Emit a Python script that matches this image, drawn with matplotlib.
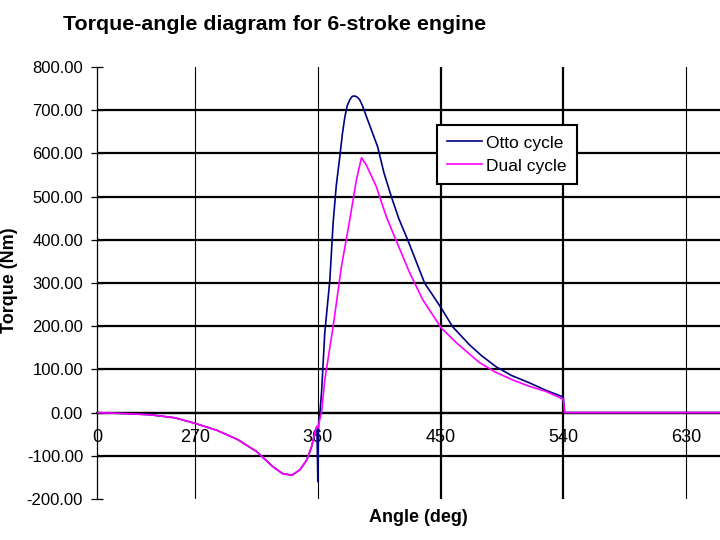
import matplotlib
matplotlib.use('Agg')
import matplotlib.pyplot as plt


##### DATA #####
angle_otto = [198, 217, 237, 255, 270, 286, 301, 315, 327, 334, 341, 347, 352, 355.5, 358, 359.3,
              360, 360.5, 361.5, 362.7, 365.1, 368.8, 371.2, 373.5, 376.1, 378, 379.8, 381.5, 383.4,
              385.2, 387.1, 389, 390.7, 392.5, 394.4, 399.3, 403.9, 408.5, 413.9, 419.5, 425.9,
              438.3, 450.5, 458.8, 471.2, 480, 490.8, 502, 515.1, 527, 540, 541, 655]
torque_otto = [0, -2, -5, -12, -25, -41, -62, -90, -125, -141, -145, -132, -109, -78, -44, -32,
               -160, -30, 0, 46, 185, 307, 439, 525, 592, 645, 684, 710, 724,
               732, 733, 730, 724, 712, 696, 654, 615, 555, 500, 448, 400,
               300, 242, 199, 157, 132, 106, 86, 69, 52, 36, 0, 0]

angle_dual = [198, 217, 237, 255, 270, 286, 301, 315, 327, 334, 341, 347, 352, 355.5, 358, 359.3,
              360.2, 361.5, 362.7, 365.1, 371.2, 377.3, 383.4, 388.3, 392, 395.6, 402.9, 410.3,
              416.3, 427.3, 437, 450.5, 461.5, 478.5, 490, 502.7, 515, 527.3, 540, 541, 655]
torque_dual = [0, -2, -5, -12, -25, -41, -62, -90, -125, -141, -145, -132, -109, -78, -44, -32,
               -35, -15, 0, 76, 199, 338, 446, 539, 590, 573, 523, 453,
               407, 324, 261, 196, 162, 116, 94, 76, 61, 49, 31, 0, 0]

x_ticks = [198, 270, 360, 450, 540, 630]
x_labels = ['0', '270', '360', '450', '540', '630']
y_ticks = [-200, -100, 0, 100, 200, 300, 400, 500, 600, 700, 800]

NAVY = '#000080'
MAGENTA = '#FF00FF'


fig = plt.figure(figsize=(7.2, 5.4), dpi=100)
ax = fig.add_axes([97/720, 1 - 499/540, 1 - 97/720, (499 - 67)/540])

# grid, drawn by hand like the Excel one (no line at top/bottom)
for yv in y_ticks[1:-1]:
    ax.axhline(yv, color='black', lw=1.6, zorder=1)
for xv, w in zip(x_ticks[1:], [0.8, 0.8, 1.6, 1.6, 0.8]):
    ax.axvline(xv, color='black', lw=w, zorder=1)

ax.plot(angle_otto, torque_otto, color=NAVY, lw=1.2, label='Otto cycle', zorder=3)
ax.plot(angle_dual, torque_dual, color=MAGENTA, lw=1.2, label='Dual cycle', zorder=4)

ax.set_xlim(198, 655)
ax.set_ylim(-200, 800)

for s in ['top', 'right']:
    ax.spines[s].set_visible(False)
ax.spines['left'].set_linewidth(0.9)
ax.spines['bottom'].set_position(('data', 0))
ax.spines['bottom'].set_linewidth(1.6)

ax.set_yticks(y_ticks)
ax.set_yticklabels(['%.2f' % v for v in y_ticks], family='Liberation Sans', fontsize=12)
ax.tick_params(axis='y', direction='inout', length=8, width=0.9, pad=6)

ax.set_xticks(x_ticks)
ax.set_xticklabels(x_labels, family='Liberation Sans', fontsize=13)
ax.tick_params(axis='x', length=0, pad=12)

leg = ax.legend(loc='upper left', bbox_to_anchor=(437/720, 1 - 125/540),
                bbox_transform=fig.transFigure, fancybox=False, framealpha=1,
                edgecolor='black', handlelength=2.0, handletextpad=0.25,
                borderpad=0.6, labelspacing=0.45, borderaxespad=0,
                prop={'family': 'Liberation Sans', 'size': 12.5})
leg.get_frame().set_linewidth(1.5)
leg.set_zorder(5)

fig.text(63/720, 1 - 25/540, 'Torque-angle diagram for 6-stroke engine',
         family='Liberation Sans', weight='bold',
         fontsize=15.4, ha='left', va='center')
fig.text(418/720, 1 - 518/540, 'Angle (deg)', family='Liberation Sans',
         weight='bold', fontsize=13, ha='center', va='center')
fig.text(10/720, 1 - 280/540, 'Torque (Nm)', family='Liberation Sans',
         weight='bold', fontsize=13, ha='center', va='center', rotation=90)

fig.savefig('out.png', dpi=100)
